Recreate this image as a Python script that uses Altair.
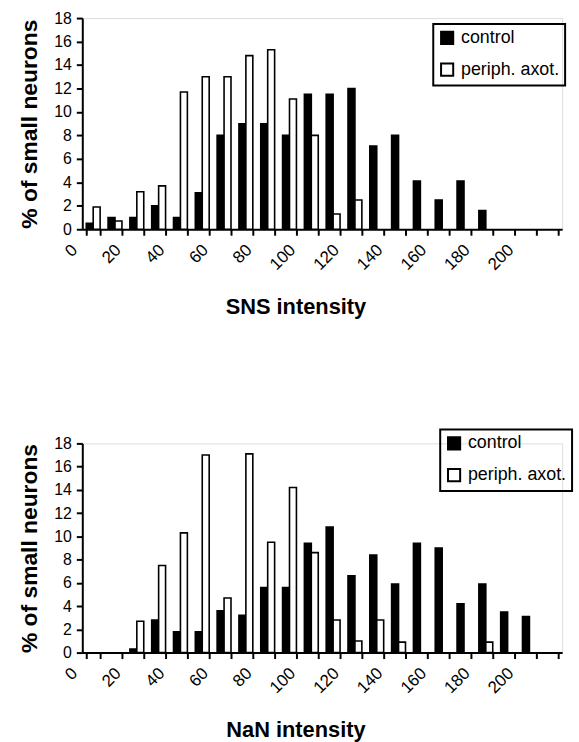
import altair as alt
import pandas as pd

bins = list(range(0, 220, 10))
groups = ["control", "periph. axot."]

sns_control = [0.5, 1.0, 1.0, 2.0, 1.0, 3.1, 8.0, 9.0, 9.0, 8.0, 11.5, 11.5, 12.0, 7.1, 8.0, 4.1, 2.5, 4.1, 1.6, 0, 0, 0]
sns_periph = [1.9, 0.7, 3.2, 3.7, 11.7, 13.0, 13.0, 14.8, 15.3, 11.1, 8.0, 1.3, 2.5, 0, 0, 0, 0, 0, 0, 0, 0, 0]
nan_control = [0, 0, 0.3, 2.8, 1.8, 1.8, 3.6, 3.2, 5.6, 5.6, 9.4, 10.8, 6.6, 8.4, 5.9, 9.4, 9.0, 4.2, 5.9, 3.5, 3.1, 0]
nan_periph = [0, 0, 2.7, 7.5, 10.3, 17.0, 4.7, 17.1, 9.5, 14.2, 8.6, 2.8, 1.0, 2.8, 0.9, 0, 0, 0, 0.9, 0, 0, 0]

y_ticks = list(range(0, 20, 2))
FONT = "Liberation Sans"


def panel(control, periph, xtitle, h, lx, ly):
    df = pd.DataFrame({
        "bin": bins + bins,
        "value": control + periph,
        "group": [groups[0]] * len(bins) + [groups[1]] * len(bins),
    })
    df = df[df["value"] > 0]
    return alt.Chart(df).mark_bar(stroke="black", strokeWidth=1.6).encode(
        x=alt.X(
            "bin:O",
            scale=alt.Scale(domain=bins, paddingInner=0.364, paddingOuter=0.182),
            axis=alt.Axis(
                title=xtitle,
                labelExpr="datum.value % 20 == 0 ? datum.label : ''",
                labelAngle=-45,
                labelAlign="right",
                labelBaseline="middle",
                labelOffset=-19,
                labelPadding=12,
                labelFontSize=17,
                tickBand="extent",
                tickSize=6,
                tickWidth=2,
                domainWidth=2,
                titleFontSize=22,
                titleFontWeight="bold",
                titleX=215,
                titleY=78,
                titleBaseline="middle",
            ),
        ),
        xOffset=alt.XOffset("group:N", scale=alt.Scale(domain=groups, paddingInner=0, paddingOuter=0)),
        y=alt.Y(
            "value:Q",
            scale=alt.Scale(domain=[0, 18], nice=False),
            axis=alt.Axis(
                title="% of small neurons",
                values=y_ticks,
                labelFontSize=16,
                labelPadding=5,
                tickSize=6,
                tickWidth=2,
                domainWidth=2,
                titleFontSize=23,
                titleFontWeight="bold",
                titlePadding=12,
                grid=False,
            ),
        ),
        fill=alt.Fill(
            "group:N",
            scale=alt.Scale(domain=groups, range=["black", "white"]),
            legend=alt.Legend(
                title=None,
                orient="none",
                legendX=lx,
                legendY=ly,
                symbolType="square",
                symbolSize=150,
                symbolStrokeColor="black",
                symbolStrokeWidth=2,
                labelFontSize=18,
                labelOffset=5,
                rowPadding=10,
                padding=5,
                strokeColor="black",
            ),
        ),
    ).properties(width=484, height=h)


top = panel(sns_control, sns_periph, "SNS intensity", 213, 354, 6)
bottom = panel(nan_control, nan_periph, "NaN intensity", 211, 361, -14)

chart = alt.vconcat(top, bottom, spacing=110).resolve_scale(fill="independent").properties(
    padding={"left": 18, "top": 6, "right": 5, "bottom": 5}
).configure_view(stroke=None).configure(font=FONT).configure_axis(
    domainColor="black", tickColor="black", labelColor="black", titleColor="black"
).configure_legend(labelColor="black", strokeWidth=2)

chart.save("out.html", embed_options={"renderer": "svg", "actions": False})
